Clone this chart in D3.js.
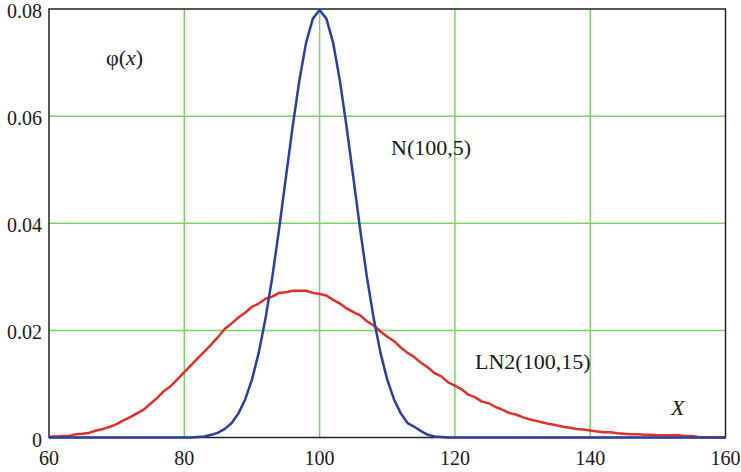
<!DOCTYPE html>
<html>
<head>
<meta charset="utf-8">
<script src="https://cdn.jsdelivr.net/npm/d3@7"></script>
<style>
  body { margin: 0; background: #fff; }
</style>
</head>
<body>
<svg id="chart" width="741" height="472"></svg>
<script>
const xTicks = [60, 80, 100, 120, 140, 160];
const yTicks = [0, 0.02, 0.04, 0.06, 0.08];
const yTickLabels = ["0", "0.02", "0.04", "0.06", "0.08"];

// N(100,5)
const normX = [60, 81, 82, 83, 84, 85, 86, 87, 88, 89, 90, 91, 92, 93, 94, 95, 96, 97, 98, 99, 100,
  101, 102, 103, 104, 105, 106, 107, 108, 109, 110, 111, 112, 113, 114, 115, 116, 117, 118, 119, 160];
const normY = [0, 0, 0.0001, 0.0002, 0.0005, 0.0009, 0.0016, 0.0027, 0.0045, 0.0071, 0.0108, 0.0158, 0.0222, 0.0299, 0.0388, 0.0484, 0.0579, 0.0666, 0.0737, 0.0782, 0.0798,
  0.0782, 0.0737, 0.0666, 0.0579, 0.0484, 0.0388, 0.0299, 0.0222, 0.0158, 0.0108, 0.0071, 0.0045, 0.0027, 0.0020, 0.0012, 0.0005, 0.0002, 0.0001, 0, 0];

// LN2(100,15)
const lnX = [60, 61, 62, 63, 64, 65, 66, 67, 68, 69, 70, 71, 72, 73, 74, 75, 76, 77, 78, 79,
  80, 81, 82, 83, 84, 85, 86, 87, 88, 89, 90, 91, 92, 93, 94, 95, 96, 97, 98, 99,
  100, 101, 102, 103, 104, 105, 106, 107, 108, 109, 110, 111, 112, 113, 114, 115, 116, 117, 118, 119,
  120, 121, 122, 123, 124, 125, 126, 127, 128, 129, 130, 131, 132, 133, 134, 135, 136, 137, 138, 139,
  140, 141, 142, 143, 144, 145, 146, 147, 148, 149, 150, 151, 152, 153, 154, 155, 156, 157, 158, 159, 160];
const lnY = [0.0002, 0.0002, 0.0003, 0.0003, 0.0006, 0.0007, 0.0009, 0.0013, 0.0016, 0.0020, 0.0025, 0.0032, 0.0038, 0.0045, 0.0052, 0.0063, 0.0074, 0.0087, 0.0096, 0.0109,
  0.0122, 0.0135, 0.0148, 0.0161, 0.0174, 0.0188, 0.0203, 0.0213, 0.0224, 0.0233, 0.0244, 0.0250, 0.0259, 0.0263, 0.0270, 0.0271, 0.0274, 0.0274, 0.0274, 0.0270,
  0.0268, 0.0265, 0.0257, 0.0250, 0.0241, 0.0234, 0.0228, 0.0217, 0.0209, 0.0198, 0.0188, 0.0180, 0.0168, 0.0158, 0.0150, 0.0139, 0.0131, 0.0120, 0.0114, 0.0103,
  0.0097, 0.0090, 0.0080, 0.0075, 0.0067, 0.0064, 0.0057, 0.0052, 0.0046, 0.0043, 0.0038, 0.0034, 0.0031, 0.0028, 0.0025, 0.0023, 0.0020, 0.0018, 0.0016, 0.0015,
  0.0013, 0.0011, 0.0010, 0.0010, 0.0008, 0.0007, 0.0006, 0.0006, 0.0005, 0.0005, 0.0004, 0.0004, 0.0004, 0.0004, 0.0003, 0.0003, 0.0001, 0, 0, 0, 0];

const svg = d3.select("#chart")
    .attr("font-family", "'Liberation Serif', 'DejaVu Serif', 'Times New Roman', serif");
const margin = { left: 49, top: 9, right: 15.5, bottom: 34.5 };
const width = 741 - margin.left - margin.right;
const height = 472 - margin.top - margin.bottom;

const x = d3.scaleLinear().domain([60, 160]).range([0, width]);
const y = d3.scaleLinear().domain([0, 0.08]).range([height, 0]);

const chart = svg.append("g")
    .attr("transform", `translate(${margin.left}, ${margin.top})`);

// grid
chart.append("g")
    .selectAll("line")
    .data(xTicks.slice(1, -1))
    .join("line")
    .attr("x1", d => x(d)).attr("x2", d => x(d))
    .attr("y1", 0).attr("y2", height)
    .attr("stroke", "#80d070")
    .attr("stroke-width", 1.5);

chart.append("g")
    .selectAll("line")
    .data(yTicks.slice(1, -1))
    .join("line")
    .attr("x1", 0).attr("x2", width)
    .attr("y1", d => y(d)).attr("y2", d => y(d))
    .attr("stroke", "#80d070")
    .attr("stroke-width", 1.5);

// frame
chart.append("rect")
    .attr("x", 0).attr("y", 0)
    .attr("width", width).attr("height", height)
    .attr("fill", "none")
    .attr("stroke", "#222")
    .attr("stroke-width", 1.5);

// tick labels
chart.append("g")
    .selectAll("text")
    .data(xTicks)
    .join("text")
    .attr("x", d => x(d))
    .attr("y", height + 27.5)
    .attr("text-anchor", "middle")
    .attr("font-size", 20)
    .attr("fill", "#1a1a1a")
    .text(d => d);

chart.append("g")
    .selectAll("text")
    .data(yTicks)
    .join("text")
    .attr("x", -7)
    .attr("y", d => y(d) + 9)
    .attr("text-anchor", "end")
    .attr("font-size", 20)
    .attr("fill", "#1a1a1a")
    .text((d, i) => yTickLabels[i]);

// curves
const line = d3.line()
    .x(d => x(d[0]))
    .y(d => y(d[1]));

chart.append("path")
    .datum(d3.zip(lnX, lnY))
    .attr("d", line)
    .attr("fill", "none")
    .attr("stroke", "#e1302a")
    .attr("stroke-width", 2.5)
    .attr("stroke-linejoin", "round");

chart.append("path")
    .datum(d3.zip(normX, normY))
    .attr("d", line)
    .attr("fill", "none")
    .attr("stroke", "#2b3f9e")
    .attr("stroke-width", 2.5)
    .attr("stroke-linejoin", "round");

// labels
const phi = chart.append("text")
    .attr("x", 57)
    .attr("y", 56)
    .attr("font-size", 22)
    .attr("fill", "#1a1a1a");
phi.append("tspan").text("φ(");
phi.append("tspan").attr("font-style", "italic").text("x");
phi.append("tspan").text(")");

chart.append("text")
    .attr("x", 342)
    .attr("y", 146)
    .attr("font-size", 22)
    .attr("fill", "#1a1a1a")
    .text("N(100,5)");

chart.append("text")
    .attr("x", 426)
    .attr("y", 360)
    .attr("font-size", 22)
    .attr("fill", "#1a1a1a")
    .text("LN2(100,15)");

chart.append("text")
    .attr("x", 622)
    .attr("y", 406)
    .attr("font-size", 22)
    .attr("font-style", "italic")
    .attr("fill", "#1a1a1a")
    .text("X");
</script>
</body>
</html>
